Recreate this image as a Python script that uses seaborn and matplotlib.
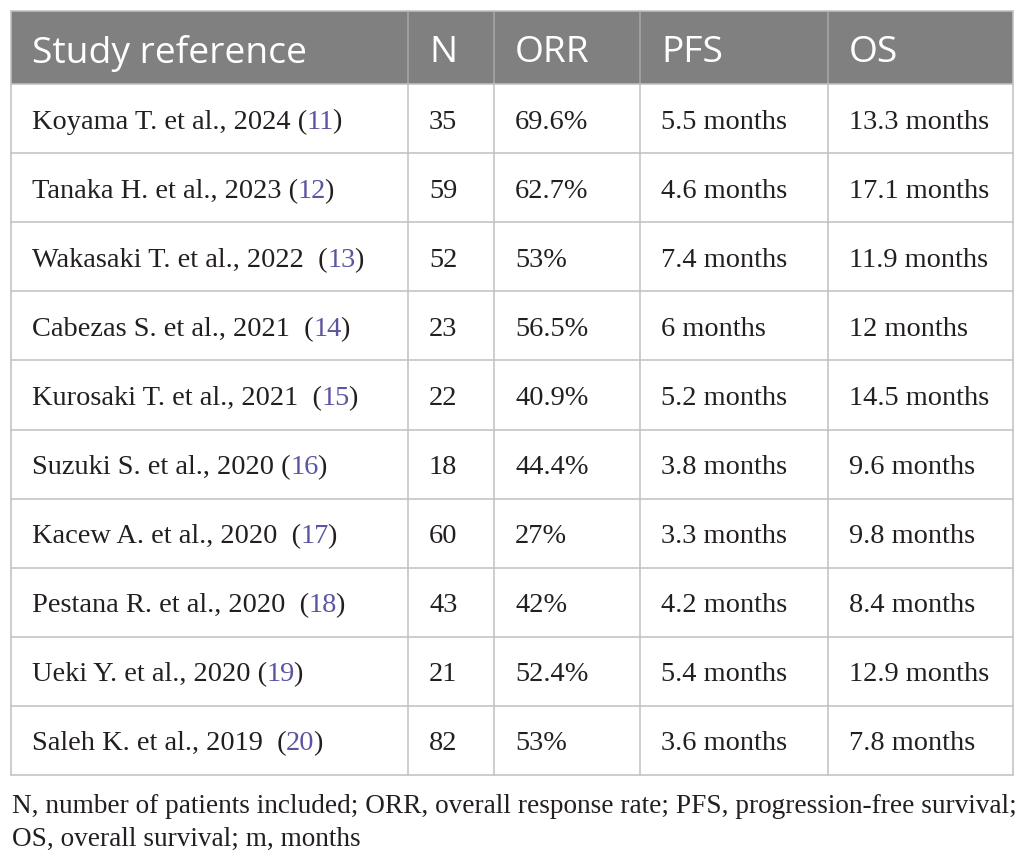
import matplotlib
matplotlib.use("Agg")
import matplotlib.pyplot as plt
import seaborn as sns
from matplotlib.patches import Rectangle

# ---------------- data ----------------
headers = ["Study reference", "N", "ORR", "PFS", "OS"]
studies = ["Koyama T. et al., 2024", "Tanaka H. et al., 2023", "Wakasaki T. et al., 2022",
           "Cabezas S. et al., 2021", "Kurosaki T. et al., 2021", "Suzuki S. et al., 2020",
           "Kacew A. et al., 2020", "Pestana R. et al., 2020", "Ueki Y. et al., 2020",
           "Saleh K. et al., 2019"]
ref_sep = [" ", " ", "  ", "  ", "  ", " ", "  ", "  ", " ", "  "]
refs = ["11", "12", "13", "14", "15", "16", "17", "18", "19", "20"]
n_patients = [35, 59, 52, 23, 22, 18, 60, 43, 21, 82]
orr = ["69.6%", "62.7%", "53%", "56.5%", "40.9%", "44.4%", "27%", "42%", "52.4%", "53%"]
pfs = ["5.5 months", "4.6 months", "7.4 months", "6 months", "5.2 months",
       "3.8 months", "3.3 months", "4.2 months", "5.4 months", "3.6 months"]
os_vals = ["13.3 months", "17.1 months", "11.9 months", "12 months", "14.5 months",
           "9.6 months", "9.8 months", "8.4 months", "12.9 months", "7.8 months"]
caption_lines = ["N, number of patients included; ORR, overall response rate; PFS, progression-free survival;",
                 "OS, overall survival; m, months"]

# ---------------- style ----------------
sns.set_theme(style="white")
HEAD_BG = "#808080"
GRID = "#c0c0c0"
HEAD_SEP = "#a8a8a8"
TXT = "#231f20"
LINK = "#5a55a0"
SERIF = ["Liberation Serif", "DejaVu Serif"]
SANS = ["Open Sans", "DejaVu Sans"]

W, H = 1026, 862
fig = plt.figure(figsize=(W / 100, H / 100), dpi=100)
ax = fig.add_axes([0, 0, 1, 1])
ax.set_xlim(0, W)
ax.set_ylim(H, 0)
ax.axis("off")

col_edges = [11, 408, 494, 640, 828, 1013]
head_top, head_bot = 12, 85
tab_bot = 776
nrows = len(studies)
row_h = (tab_bot - head_bot) / nrows
pad = 21

lw = 1.1
# header background
ax.add_patch(Rectangle((col_edges[0], head_top), col_edges[-1] - col_edges[0],
                       head_bot - head_top, facecolor=HEAD_BG, edgecolor="none", zorder=1))
# header separators
for x in col_edges[1:-1]:
    ax.plot([x, x], [head_top, head_bot], color=HEAD_SEP, lw=lw, zorder=2)
# body grid
for x in col_edges:
    ax.plot([x, x], [head_bot, tab_bot], color=GRID, lw=lw, zorder=2)
for i in range(nrows + 1):
    y = head_bot + i * row_h
    ax.plot([col_edges[0], col_edges[-1]], [y, y], color=GRID, lw=lw, zorder=2)
ax.plot([col_edges[0], col_edges[-1]], [head_top, head_top], color=GRID, lw=lw, zorder=2)
ax.plot([col_edges[0], col_edges[0]], [head_top, head_bot], color=GRID, lw=lw, zorder=2)
ax.plot([col_edges[-1], col_edges[-1]], [head_top, head_bot], color=GRID, lw=lw, zorder=2)

# header text
head_base = head_top + (head_bot - head_top) / 2 + 14
for j, h in enumerate(headers):
    ax.text(col_edges[j] + pad, head_base, h, color="white", fontsize=26.8,
            family=SANS, va="baseline", ha="left", zorder=3)

fig.canvas.draw()
renderer = fig.canvas.get_renderer()

body_fs = 20.4
for i in range(nrows):
    base = head_bot + i * row_h + row_h / 2 + 9
    t1 = ax.text(col_edges[0] + pad, base, studies[i] + ref_sep[i] + "(", color=TXT,
                 fontsize=body_fs, family=SERIF, va="baseline", ha="left", zorder=3)
    x1 = t1.get_window_extent(renderer).x1 - 0.5
    t2 = ax.text(x1, base, refs[i], color=LINK, fontsize=body_fs, family=SERIF,
                 va="baseline", ha="left", zorder=3)
    x2 = t2.get_window_extent(renderer).x1 - 1.5
    ax.text(x2, base, ")", color=TXT, fontsize=body_fs, family=SERIF,
            va="baseline", ha="left", zorder=3)
    for j, val in enumerate([str(n_patients[i]), orr[i], pfs[i], os_vals[i]], start=1):
        ax.text(col_edges[j] + pad, base, val, color=TXT, fontsize=body_fs,
                family=SERIF, va="baseline", ha="left", zorder=3)

# caption, fitted to width
cap_fs = 19
t = ax.text(12, 813, caption_lines[0], color=TXT, fontsize=cap_fs, family=SERIF,
            va="baseline", ha="left")
wext = t.get_window_extent(renderer).width
cap_fs = cap_fs * (1002 / wext)
t.set_fontsize(cap_fs)
ax.text(12, 846, caption_lines[1], color=TXT, fontsize=cap_fs, family=SERIF,
        va="baseline", ha="left")

fig.savefig("out.png", dpi=100, facecolor="white")
